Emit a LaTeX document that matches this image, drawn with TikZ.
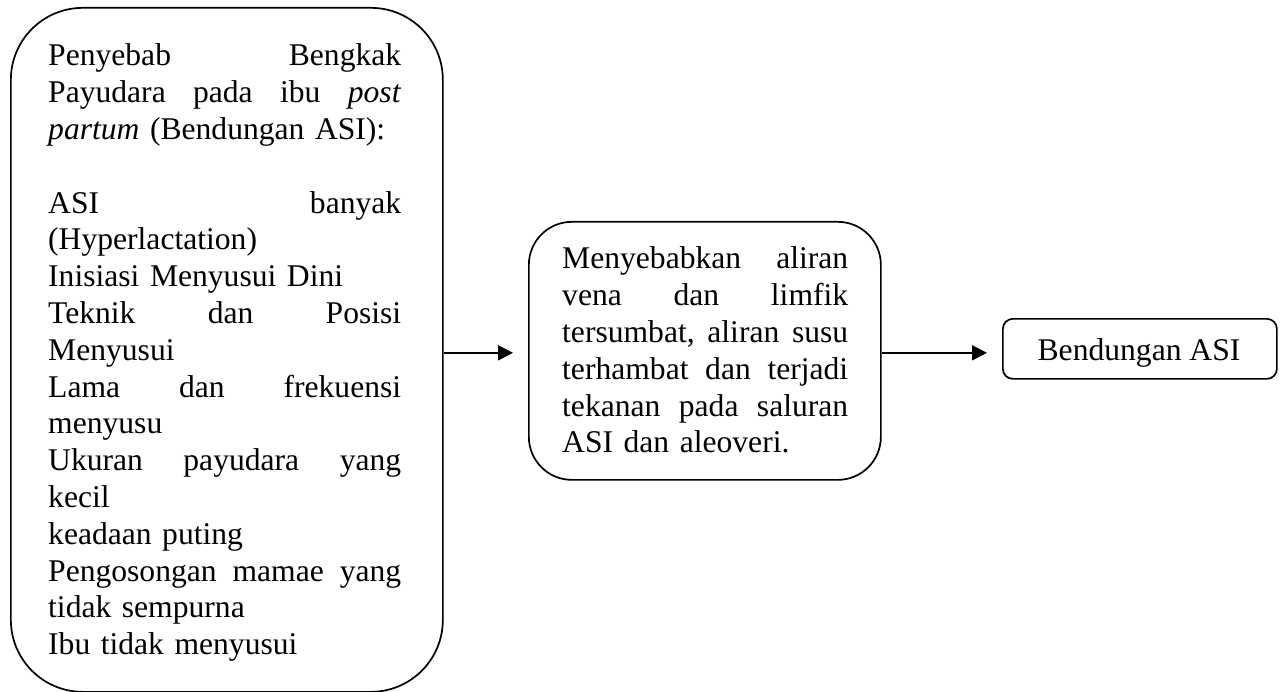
\documentclass[tikz,border=0pt]{standalone}
\usepackage{fontspec}
\setmainfont{Liberation Serif}
\usetikzlibrary{arrows.meta}
\begin{document}
\begin{tikzpicture}[x=1pt,y=-1pt,
  box/.style={draw, line width=1.7pt, rectangle, inner sep=0pt, anchor=north west},
  txt/.style={font=\fontsize{31.6pt}{36.8pt}\selectfont, inner sep=0pt, align=left, anchor=base west},
  arr/.style={line width=1.8pt, -{Triangle[length=15pt,width=15pt]}, shorten >=15pt}]
\useasboundingbox (0,0) rectangle (1281,692);
% boxes
\node[box, rounded corners=72pt, minimum width=432pt, minimum height=684pt] (L) at (10,7) {};
\node[box, rounded corners=43pt, minimum width=352pt, minimum height=258pt] (M) at (528,221) {};
\node[box, rounded corners=10pt, minimum width=274pt, minimum height=60pt] (R) at (1002,318) {};
% texts
\node[txt, text width=353pt] (Lt) at (48,66) {Penyebab\hfill Bengkak\\
Payudara\hfill pada\hfill ibu\hfill \textit{post}\\
\textit{partum} (Bendungan ASI):\\[36.8pt]
ASI\hfill banyak\\
(Hyperlactation)\\
Inisiasi Menyusui Dini\\
Teknik\hfill dan\hfill Posisi\\
Menyusui\\
Lama\hfill dan\hfill frekuensi\\
menyusu\\
Ukuran\hfill payudara\hfill yang\\
kecil\\
keadaan puting\\
Pengosongan\hfill mamae\hfill yang\\
tidak sempurna\\
Ibu tidak menyusui};
\node[txt, text width=286pt] (Mt) at (562,269) {Menyebabkan\hfill aliran\\
vena\hfill dan\hfill limfik\\
tersumbat,\hfill aliran\hfill susu\\
terhambat\hfill dan\hfill terjadi\\
tekanan\hfill pada\hfill saluran\\
ASI dan aleoveri.};
\node[txt, anchor=base] (Rt) at (1139,360) {Bendungan ASI};
% connectors
\draw[arr] ([yshift=-3pt]L.east) -- ([yshift=-3pt]L.east -| M.west);
\draw[arr] ([yshift=-2pt]M.east) -- ([yshift=-2pt]M.east -| R.west);
\end{tikzpicture}
\end{document}
